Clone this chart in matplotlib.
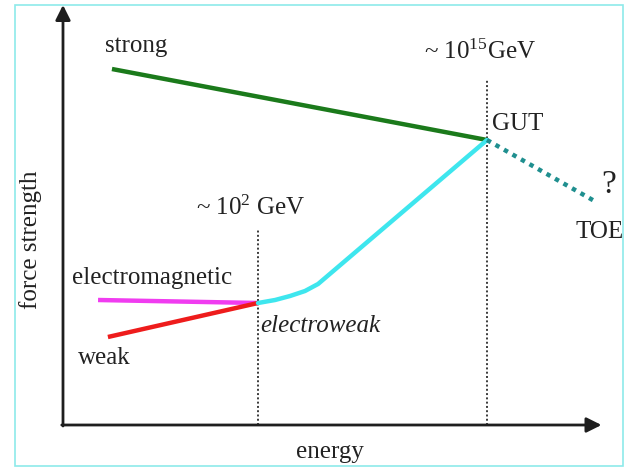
import matplotlib.pyplot as plt
from matplotlib.patches import Rectangle

plt.rcParams['font.family'] = ['Liberation Serif', 'DejaVu Serif']
plt.rcParams['mathtext.fontset'] = 'custom'
plt.rcParams['mathtext.rm'] = 'Liberation Serif'

# x: log10(energy / GeV), y: force strength (arbitrary units)
strong_x = [-6.29, 15.0]
strong_y = [3.56, 2.85]

em_x = [-7.08, 2.0]
em_y = [1.25, 1.22]

weak_x = [-6.52, 2.0]
weak_y = [0.88, 1.22]

ew_x = [2.0, 2.97, 3.82, 4.67, 5.41, 15.0]
ew_y = [1.22, 1.25, 1.29, 1.34, 1.41, 2.85]

toe_x = [15.0, 21.2]
toe_y = [2.85, 2.23]

scales = [2.0, 15.0]          # 10^2 GeV and 10^15 GeV
scale_tops = [1.95, 3.45]

fig = plt.figure(figsize=(6.31, 4.68), dpi=100)
ax = fig.add_axes([0, 0, 1, 1])
ax.set_xlim(-12.646, 23.175)
ax.set_ylim(-0.43, 4.25)
ax.axis('off')

# axes with arrows
x0, y0 = -9.07, 0.0
ax.annotate('', xy=(21.5, y0), xytext=(x0 - 0.07, y0),
            arrowprops=dict(arrowstyle='-|>,head_length=0.9,head_width=0.45',
                            lw=2, color='#1e1e1e', shrinkA=0, shrinkB=0))
ax.annotate('', xy=(x0, 4.20), xytext=(x0, y0 - 0.01),
            arrowprops=dict(arrowstyle='-|>,head_length=0.9,head_width=0.45',
                            lw=2, color='#1e1e1e', shrinkA=0, shrinkB=0))

# dotted energy scale markers
for xs, top in zip(scales, scale_tops):
    ax.plot([xs, xs], [0, top], ls=(0, (1, 1.2)), lw=1.4, color='#3a3a3a')

# force lines
ax.plot(strong_x, strong_y, color='#1b7a1b', lw=3.2, solid_capstyle='butt')
ax.plot(em_x, em_y, color='#f03cf0', lw=3.2, solid_capstyle='butt')
ax.plot(weak_x, weak_y, color='#ee1c1c', lw=3.2, solid_capstyle='butt')
ax.plot(ew_x, ew_y, color='#3ee6ee', lw=3.2, solid_capstyle='round')
ax.plot(toe_x, toe_y, color='#1f8f8f', lw=3.2, ls=(0, (1, 1.2)))

tc = '#222222'
fs = 18
ax.text(-4.93, 3.79, 'strong', fontsize=fs, color=tc, ha='center', va='center')
ax.text(14.6, 3.73, r'~ 10$\mathregular{^{15}}$GeV', fontsize=fs, color=tc,
        ha='center', va='center')
ax.text(15.3, 3.01, 'GUT', fontsize=fs, color=tc, ha='left', va='center')
ax.text(21.9, 2.40, '?', fontsize=24, color=tc, ha='center', va='center')
ax.text(21.4, 1.93, 'TOE', fontsize=fs, color=tc, ha='center', va='center')
ax.text(1.6, 2.17, r'~ 10$\mathregular{^{2}}$ GeV', fontsize=fs, color=tc,
        ha='center', va='center')
ax.text(-4.0, 1.47, 'electromagnetic', fontsize=fs, color=tc,
        ha='center', va='center')
ax.text(2.1, 0.99, 'electroweak', fontsize=fs, color=tc, style='italic',
        ha='left', va='center')
ax.text(-6.7, 0.67, 'weak', fontsize=fs, color=tc, ha='center', va='center')
ax.text(-10.9, 1.85, 'force strength', fontsize=fs, color=tc, rotation=90,
        ha='center', va='center')
ax.text(6.1, -0.27, 'energy', fontsize=fs, color=tc, ha='center', va='center')

# thin frame around the picture
fig.patches.append(Rectangle((15 / 631, 1 - 466 / 468), 608 / 631, 461 / 468,
                             transform=fig.transFigure, fill=False,
                             edgecolor='#8eeaea', lw=1.2))

fig.savefig('out.png', dpi=100)
